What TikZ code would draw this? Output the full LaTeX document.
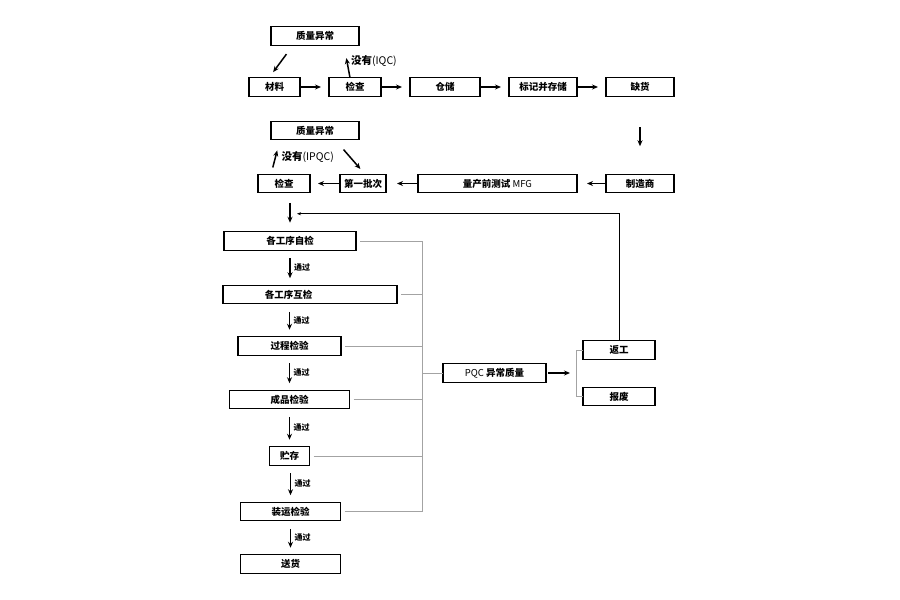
\documentclass[tikz,border=0pt]{standalone}
\usepackage{fontspec}
\setmainfont{Noto Sans CJK SC}
\usetikzlibrary{arrows.meta,positioning}
\definecolor{linegray}{gray}{0.64}

\begin{document}
\begin{tikzpicture}[
  x=1pt,y=-1pt,
  node distance=29pt,
  box/.style={draw,line width=1.1pt,outer sep=0pt,minimum height=18.5pt,inner sep=2pt,font=\bfseries\fontsize{9.5}{11}\selectfont},
  arr/.style={-{Stealth[length=6pt,width=5pt]},line width=1.5pt},
  thinarr/.style={-{Stealth[length=4pt,width=3pt]},line width=0.6pt},
  gline/.style={draw=linegray,line width=0.9pt},
  pass/.style={right,font=\bfseries\fontsize{8}{9}\selectfont},
  ann/.style={right,font=\bfseries\fontsize{10.5}{12}\selectfont}
]
\useasboundingbox (0,0) rectangle (900,600);

% incoming material row
\node[box,minimum width=88pt] (zl1) at (315,36) {质量异常};
\node[box,minimum width=51pt] (cailiao) at (274.5,87) {材料};
\node[box,minimum width=52pt,right=of cailiao] (jiancha) {检查};
\node[box,minimum width=70pt,right=of jiancha] (cangchu) {仓储};
\node[box,minimum width=68pt,right=of cangchu] (biaoji) {标记并存储};
\node[box,minimum width=68pt,right=of biaoji] (quehuo) {缺货};

\draw[arr,shorten >=8pt] (cailiao) -- (jiancha);
\draw[arr,shorten >=8pt] (jiancha) -- (cangchu);
\draw[arr,shorten >=8pt] (cangchu) -- (biaoji);
\draw[arr,shorten >=8pt] (biaoji) -- (quehuo);
\draw[arr,shorten <=11pt,shorten >=7pt] ([xshift=22pt]zl1.south west) -- ([xshift=20pt]cailiao.north west);
\draw[arr,shorten >=13pt] ([xshift=21pt]jiancha.north west) -- node[ann]{没有\textmd{(IQC)}} ([xshift=73pt]zl1.south west);

% first batch row
\node[box,minimum width=68pt,below=78pt of quehuo] (zhizao) {制造商};
\node[box,minimum width=159pt,left=of zhizao] (mfg) {量产前测试 \textmd{MFG}};
\node[box,minimum width=46pt,left=32pt of mfg] (diyi) {第一批次};
\node[box,minimum width=52pt,left=30pt of diyi] (jiancha2) {检查};
\node[box,minimum width=88pt,below=76pt of zl1] (zl2) {质量异常};

\draw[arr,shorten <=31pt,shorten >=28pt] (quehuo.south) -- (zhizao.north);
\draw[arr,shorten >=10pt] (zhizao) -- (mfg);
\draw[arr,shorten >=11pt] (mfg) -- (diyi);
\draw[arr,shorten >=8pt] (diyi) -- (jiancha2);
\draw[arr,shorten <=7pt,shorten >=11pt] ([xshift=13pt]jiancha2.north west) -- node[ann,xshift=2pt]{没有\textmd{(IPQC)}} ([xshift=9pt]zl2.south west);
\draw[arr,shorten <=13pt,shorten >=7pt] ([xshift=64pt]zl2.south west) -- ([xshift=25pt]diyi.north west);

% process checks column
\node[box,minimum width=132pt] (zijian) at (290,241) {各工序自检};
\node[box,minimum width=174pt,below=35pt of zijian,xshift=20pt] (hujian) {各工序互检\hspace*{43pt}};
\node[box,minimum width=103pt,below=33pt of hujian,xshift=-20.5pt] (guocheng) {过程检验};
\node[box,minimum width=120pt,below=35pt of guocheng] (chengpin) {成品检验};
\node[box,minimum width=40pt,below=38pt of chengpin] (zhucun) {贮存};
\node[box,minimum width=100pt,below=37pt of zhucun,xshift=1pt] (zhuangyun) {装运检验};
\node[box,minimum width=100pt,below=34pt of zhuangyun] (songhuo) {送货};

\draw[arr,shorten <=10pt,shorten >=9pt] (jiancha2.south -| zijian.north) -- (zijian.north);
\draw[arr,shorten <=8pt,shorten >=7pt] (zijian.south) -- node[pass]{通过} (zijian.south |- hujian.north);
\foreach \a/\b in {hujian/guocheng,guocheng/chengpin,chengpin/zhucun,zhucun/zhuangyun,zhuangyun/songhuo}
  \draw[arr,shorten <=8pt,shorten >=7pt] (\b.north |- \a.south) -- node[pass]{通过} (\b.north);

% PQC and disposition
\node[box,minimum width=103pt] (pqc) at (494.5,373) {\textmd{PQC} 异常质量};
\node[box,minimum width=72pt] (fangong) at (619,350) {返工};
\node[box,minimum width=72pt,below=28pt of fangong] (baofei) {报废};
\coordinate (bus) at ([xshift=-21pt]pqc.west);
\coordinate (fork) at ([xshift=-7pt]fangong.west);
\coordinate (huiliu) at ([xshift=7pt,yshift=18pt]zijian.north);

\foreach \n in {zijian,hujian,guocheng,chengpin,zhucun,zhuangyun}
  \draw[gline] ([xshift=4pt]\n.east) -- (\n.east -| bus);
\draw[gline] (zijian.east -| bus) -- (zhuangyun.east -| bus);
\draw[gline] (bus) -- (pqc.west);
\draw[arr,shorten <=2pt,shorten >=6pt] (pqc.east) -- (pqc.east -| fork);
\draw[gline] (fangong.west) -- (fork) |- (baofei.west);
\draw[thinarr] (fangong.north) |- (huiliu);
\end{tikzpicture}
\end{document}
